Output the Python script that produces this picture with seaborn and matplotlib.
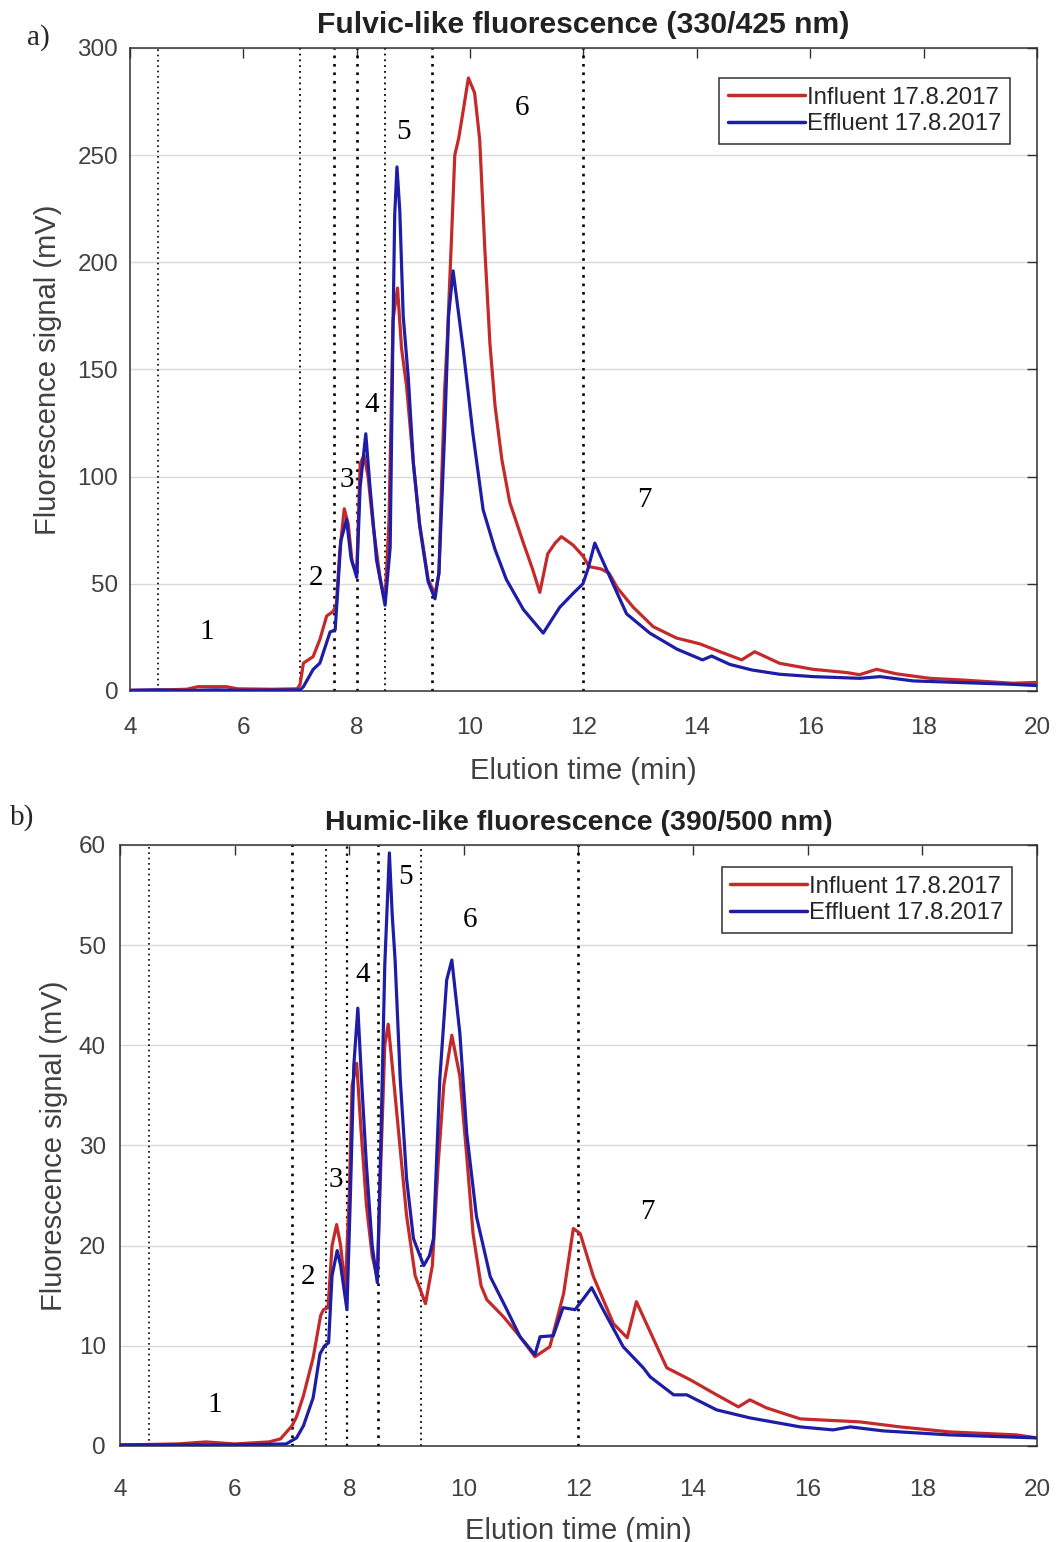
import numpy as np
import matplotlib
matplotlib.use("Agg")
import matplotlib.pyplot as plt
import seaborn as sns

# ---- data ----
# a) fulvic-like (330/425 nm)
fulvic_time_in = [4.0, 4.6, 5.0, 5.2, 5.7, 5.9, 6.5, 6.95, 7.0, 7.06, 7.23, 7.35, 7.47, 7.58, 7.64,
                  7.7, 7.78, 7.85, 7.92, 8.0, 8.06, 8.13, 8.2, 8.29, 8.41, 8.5, 8.57, 8.64, 8.72,
                  8.79, 8.88, 9.0, 9.11, 9.26, 9.38, 9.45, 9.5, 9.55, 9.6, 9.67, 9.73, 9.8, 9.88,
                  9.97, 10.08, 10.17, 10.26, 10.35, 10.44, 10.56, 10.7, 10.94, 11.1, 11.23, 11.3,
                  11.37, 11.5, 11.61, 11.82, 11.99, 12.1, 12.3, 12.45, 12.6, 12.88, 13.23, 13.64,
                  14.05, 14.41, 14.79, 15.02, 15.46, 16.05, 16.64, 16.87, 17.17, 17.52, 18.11,
                  18.69, 19.57, 20.0]
fulvic_in = [0.3, 0.5, 0.8, 2.0, 2.0, 1.0, 0.8, 1.0, 3.0, 13, 16, 24, 35, 37, 40,
             65, 85, 78, 60, 55, 106, 110, 100, 77, 53, 42, 80, 173, 188,
             160, 142, 106, 78, 52, 45, 55, 100, 140, 165, 210, 250, 258, 271,
             286, 279, 257, 206, 162, 133, 108, 88, 69, 57, 46, 55,
             64, 69, 72, 68, 63, 58, 57, 55, 48, 39, 30, 24.7,
             22, 18.3, 14.5, 18.3, 12.9, 10.1, 8.6, 7.6, 10.1, 8.0, 5.9,
             5.1, 3.6, 4.0]

fulvic_time_eff = [4.0, 4.5, 5.0, 5.5, 6.0, 6.5, 7.0, 7.06, 7.23, 7.35, 7.53, 7.62, 7.66, 7.72,
                   7.82, 7.9, 8.0, 8.06, 8.16, 8.23, 8.35, 8.5, 8.59, 8.64, 8.67, 8.71, 8.76,
                   8.82, 8.91, 9.0, 9.11, 9.26, 9.38, 9.45, 9.55, 9.62, 9.7, 9.88, 10.05, 10.23,
                   10.44, 10.64, 10.94, 11.29, 11.58, 11.82, 11.99, 12.08, 12.2, 12.3, 12.52,
                   12.76, 13.17, 13.65, 14.1, 14.26, 14.58, 14.97, 15.46, 16.05, 16.87, 17.23,
                   17.81, 18.69, 19.57, 20.0]
fulvic_eff = [0.3, 0.5, 0.2, 0.5, 0.3, 0.4, 0.5, 2, 10, 13, 27.5, 28.5, 45, 70,
              80, 62, 53, 95, 120, 96.5, 61, 40, 67, 169, 222, 244.5, 224,
              175, 146, 106, 77, 51, 43, 55, 120, 175, 196, 159, 120, 84.5,
              66, 52, 38, 27, 39, 45.6, 50, 57, 69, 63, 50,
              36, 27, 19.5, 14.5, 16.3, 12.4, 9.8, 7.8, 6.7, 5.9, 6.7,
              4.7, 3.9, 3.1, 2.5]

# b) humic-like (390/500 nm)
humic_time_in = [4.0, 5.0, 5.5, 6.0, 6.6, 6.8, 7.0, 7.08, 7.2, 7.37, 7.5, 7.55, 7.63, 7.7, 7.78,
                 7.85, 7.93, 8.0, 8.05, 8.13, 8.2, 8.3, 8.4, 8.49, 8.55, 8.62, 8.68, 8.75, 8.85,
                 9.0, 9.15, 9.33, 9.45, 9.55, 9.65, 9.79, 9.93, 10.05, 10.16, 10.3, 10.4, 10.69,
                 10.98, 11.24, 11.5, 11.74, 11.91, 12.03, 12.26, 12.61, 12.85, 13.01, 13.25,
                 13.54, 13.95, 14.41, 14.79, 14.99, 15.28, 15.87, 16.91, 17.61, 18.48, 19.65, 20.0]
humic_in = [0.1, 0.2, 0.4, 0.2, 0.4, 0.7, 2.0, 2.9, 5.0, 8.8, 13.0, 13.6, 13.8, 20.0, 22.1,
            20.0, 15.6, 25, 36, 38.2, 32, 24, 19, 16.7, 28, 40, 42.1, 38, 32,
            23, 17, 14.2, 18, 28, 36, 41, 36.9, 28.9, 21.2, 16, 14.6, 12.9,
            10.9, 8.9, 9.9, 15.2, 21.7, 21.2, 16.9, 12.2, 10.8, 14.4, 11.4,
            7.8, 6.6, 5.1, 3.9, 4.6, 3.8, 2.7, 2.4, 1.9, 1.4, 1.1, 0.8]

humic_time_eff = [4.0, 5.0, 6.0, 6.9, 7.08, 7.2, 7.37, 7.49, 7.57, 7.64, 7.7, 7.79, 7.85, 7.96,
                  8.02, 8.08, 8.15, 8.22, 8.3, 8.4, 8.49, 8.55, 8.62, 8.7, 8.75, 8.8, 8.89, 9.0,
                  9.12, 9.3, 9.4, 9.47, 9.58, 9.7, 9.79, 9.93, 10.05, 10.22, 10.46, 10.75,
                  10.98, 11.24, 11.33, 11.56, 11.73, 11.94, 12.23, 12.43, 12.78, 13.13, 13.25,
                  13.66, 13.89, 14.41, 14.99, 15.87, 16.44, 16.74, 17.32, 18.48, 20.0]
humic_eff = [0.1, 0.1, 0.1, 0.2, 0.8, 2.0, 4.8, 9.2, 10.0, 10.3, 17, 19.5, 18, 13.6,
             25, 38, 43.7, 36, 28, 20, 16.3, 30, 48, 59.2, 53, 48.5, 36.6, 26.7,
             20.7, 18, 19, 20.7, 36.6, 46.5, 48.5, 41.2, 31.2, 22.9, 16.9, 13.6,
             10.9, 9.1, 10.9, 11, 13.8, 13.6, 15.8, 13.6, 9.9, 7.8, 6.9,
             5.1, 5.1, 3.6, 2.8, 1.9, 1.6, 1.9, 1.5, 1.1, 0.8]

fulvic_bounds = [4.5, 7.0, 7.6, 8.0, 8.5, 9.33, 12.0]
humic_bounds = [4.5, 7.0, 7.6, 7.96, 8.5, 9.25, 12.0]

peak_names = ["1", "2", "3", "4", "5", "6", "7"]
fulvic_peak_x = [5.36, 7.28, 7.83, 8.27, 8.83, 10.91, 13.08]
fulvic_peak_y = [27.5, 52.7, 98.5, 133.5, 261, 272, 89]
humic_peak_x = [5.66, 7.28, 7.77, 8.24, 8.99, 10.11, 13.2]
humic_peak_y = [4.1, 16.9, 26.5, 47, 56.8, 52.5, 23.4]

# ---- style ----
sns.set_style("white")
plt.rcParams["font.family"] = ["Liberation Sans", "DejaVu Sans"]
SERIF = ["Liberation Serif", "DejaVu Serif"]

RED = "#c42a2a"
BLUE = "#1d1da6"
TXT = "#404040"

fig = plt.figure(figsize=(10.6, 15.42), dpi=100)
ax_a = fig.add_axes([0.1226, 0.5519, 0.8557, 0.4170])
ax_b = fig.add_axes([0.1132, 0.0623, 0.8651, 0.3898])


def draw(ax, t_in, y_in, t_eff, y_eff, bounds, widths, ymax, ystep, title, title_size,
         px, py, xpad, ypad, xlabpad, ylabpad, leg_anchor):
    for b, w in zip(bounds, widths):
        ax.axvline(b, color="black", linestyle=(0, (1, 2.2)), lw=w, zorder=1)
    sns.lineplot(x=t_in, y=y_in, ax=ax, color=RED, lw=2.3, label="Influent 17.8.2017",
                 estimator=None, sort=False, zorder=3)
    sns.lineplot(x=t_eff, y=y_eff, ax=ax, color=BLUE, lw=2.3, label="Effluent 17.8.2017",
                 estimator=None, sort=False, zorder=4)
    ax.set_xlim(4, 20)
    ax.set_ylim(0, ymax)
    ax.set_xticks(np.arange(4, 21, 2))
    ax.set_yticks(np.arange(0, ymax + 1, ystep))
    ax.yaxis.grid(True, color="#d9d9d9", lw=1.0, zorder=0)
    ax.xaxis.grid(False)
    ax.tick_params(direction="in", length=7, width=1, top=True, right=True,
                   labelsize=17.5, labelcolor=TXT, colors="#303030")
    ax.tick_params(axis="x", pad=xpad)
    ax.tick_params(axis="y", pad=ypad)
    for s in ax.spines.values():
        s.set_color("#303030")
        s.set_linewidth(1.1)
    ax.set_xlabel("Elution time (min)", fontsize=21, color=TXT, labelpad=xlabpad)
    ax.set_ylabel("Fluorescence signal (mV)", fontsize=21, color=TXT, labelpad=ylabpad)
    ax.set_title(title, fontsize=title_size, fontweight="bold", color="#222222", pad=11)
    for n, x, y in zip(peak_names, px, py):
        ax.text(x, y, n, fontsize=21, family=SERIF, ha="center", va="center",
                color="black", zorder=5)
    leg = ax.legend(loc="upper right", fontsize=17.3, handlelength=3.2,
                    handletextpad=0.1, borderpad=0.35, labelspacing=0.2,
                    borderaxespad=0, fancybox=False, framealpha=1, edgecolor="#303030",
                    bbox_to_anchor=leg_anchor)
    leg.get_frame().set_linewidth(1.1)
    for line in leg.get_lines():
        line.set_linewidth(2.5)


draw(ax_a, fulvic_time_in, fulvic_in, fulvic_time_eff, fulvic_eff, fulvic_bounds,
     [1.2, 1.3, 1.9, 1.9, 1.3, 1.9, 1.9], 300, 50,
     "Fulvic-like fluorescence (330/425 nm)", 21.7, fulvic_peak_x, fulvic_peak_y,
     xpad=19, ypad=8.5, xlabpad=13, ylabpad=11, leg_anchor=(0.970, 0.953))
draw(ax_b, humic_time_in, humic_in, humic_time_eff, humic_eff, humic_bounds,
     [1.2, 1.9, 1.3, 1.6, 1.9, 1.3, 1.9], 60, 10,
     "Humic-like fluorescence (390/500 nm)", 20.5, humic_peak_x, humic_peak_y,
     xpad=24, ypad=10, xlabpad=11, ylabpad=8, leg_anchor=(0.973, 0.963))

fig.text(38 / 1060, 1 - 38 / 1542, "a)", fontsize=21, family=SERIF, ha="center", va="center")
fig.text(22 / 1060, 1 - 818 / 1542, "b)", fontsize=21, family=SERIF, ha="center", va="center")

fig.savefig("out.png", dpi=100, facecolor="white")
